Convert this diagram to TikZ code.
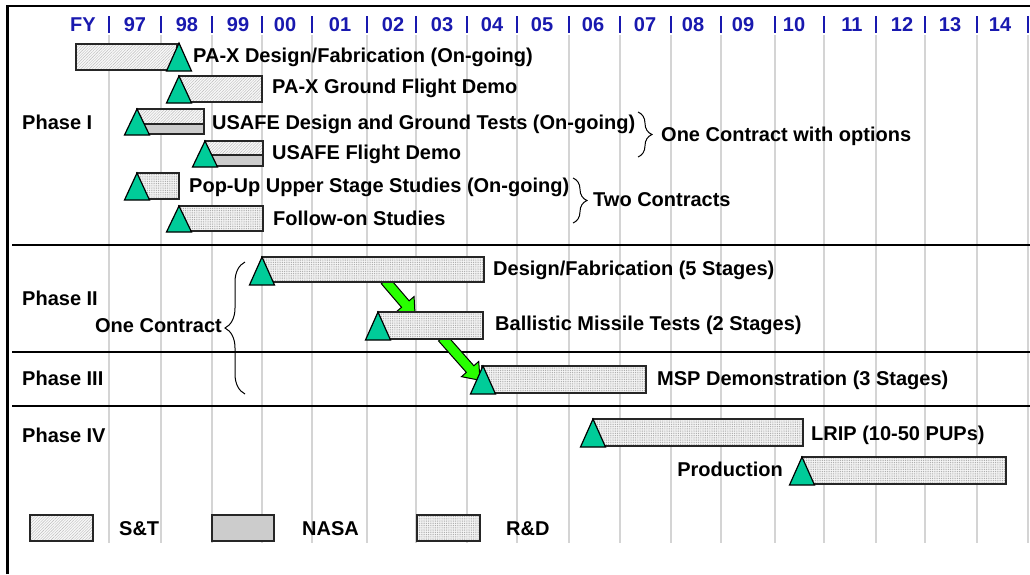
\documentclass[tikz,border=0pt]{standalone}
\usepackage{fontspec}
\setmainfont{Liberation Sans}
\usetikzlibrary{patterns.meta,shapes.arrows,decorations.pathreplacing,calc}
\definecolor{hdrblue}{RGB}{25,25,175}
\definecolor{msgreen}{RGB}{0,204,153}
\definecolor{arrgreen}{RGB}{40,255,0}
\definecolor{gridgray}{RGB}{212,212,212}
\definecolor{nasagray}{RGB}{204,204,204}
\newcommand{\gbar}[6]{\node[#6, minimum width=#4pt-#2pt, minimum height=#5pt-#3pt] (#1) at (#2,#3) {};}
\newcommand{\mstone}[3]{\draw[ms] (#1-12.5,#3) -- (#1,#2) -- (#1+12.5,#3) -- cycle;}
\begin{document}
\begin{tikzpicture}[x=1pt,y=-1pt,
  lbl/.style={font=\fontsize{20}{24}\selectfont\bfseries, inner sep=0pt, anchor=base west},
  lble/.style={lbl, anchor=base east},
  hdr/.style={font=\fontsize{20}{24}\selectfont\bfseries, text=hdrblue, inner sep=0pt, anchor=base},
  barbase/.style={draw=black!85, line width=1.3pt, inner sep=0pt, outer sep=0pt, anchor=north west},
  st/.style={barbase, preaction={fill=gray!5}, pattern={Lines[angle=45,distance=2pt,line width=0.4pt]}, pattern color=gray!55},
  nasa/.style={barbase, fill=nasagray},
  rd/.style={barbase, preaction={fill=gray!8}, pattern={Dots[distance=1.8pt,radius=0.5pt]}, pattern color=gray!75},
  ms/.style={draw=black, line width=1.2pt, fill=msgreen, line join=miter},
  gridln/.style={draw=gridgray, line width=1.3pt},
  phaseline/.style={line width=2.8pt},
  yrsep/.style={draw=hdrblue, line width=1.8pt},
  br/.style={decorate, decoration={brace, amplitude=#1}, line width=1pt},
  fat/.style={single arrow, draw=black, line width=1pt, fill=arrgreen, inner xsep=0pt, inner ysep=4.5pt, single arrow head extend=6.5pt, single arrow tip angle=75}
]
\useasboundingbox (0,0) rectangle (1030,574);
% grid
\foreach \x in {109,161,212,262,312,367,416,467,517,569,620,671,721,775,824,876,925,977,1028}{
  \draw[gridln] (\x,35) -- (\x,543);
  \draw[yrsep] (\x,16) -- (\x,33);
}
\foreach \x/\t in {83/FY,135/97,187/98,238/99,285/00,340/01,393/02,442/03,492/04,542/05,593/06,645/07,693/08,743/09,794/10,852/11,902/12,950/13,1000/14}{
  \node[hdr] (y\t) at (\x,31.5) {\t};
}
% frame and phase lines
\draw[line width=2.5pt] (7.5,574) -- (7.5,6) -- (1030,6);
\draw[phaseline] (12,245) -- (1030,245);
\draw[phaseline] (12,352) -- (1030,352);
\draw[phaseline] (12,406) -- (1030,406);
% phase labels
\node[lbl] (p1) at (22,129) {Phase I};
\node[lbl] (p2) at (22,305) {Phase II};
\node[lbl] (p3) at (22,385) {Phase III};
\node[lbl] (p4) at (22,442) {Phase IV};
% green arrows (under bars)
\coordinate (a1s) at (383,278); \coordinate (a1e) at (413,313);
\node[fat, minimum height=46pt, rotate=-49.4] (arr1) at ($(a1s)!0.5!(a1e)$) {};
\coordinate (a2s) at (440,335); \coordinate (a2e) at (478,378);
\node[fat, minimum height=57pt, rotate=-48.5] (arr2) at ($(a2s)!0.5!(a2e)$) {};
% Phase I
\gbar{pxdf}{76}{44}{177}{70}{st}
\mstone{179}{43}{71}
\node[lbl] (tpxdf) at (193,62) {PA-X Design/Fabrication (On-going)};
\gbar{pxgf}{179}{76}{262}{102}{st}
\mstone{179}{76}{103}
\node[lbl] (tpxgf) at (272,93) {PA-X Ground Flight Demo};
\gbar{usdgA}{137}{109}{204}{124}{st}
\gbar{usdgB}{137}{124}{204}{134}{nasa}
\mstone{137}{109}{135}
\node[lbl] (tusdg) at (212,129) {USAFE Design and Ground Tests (On-going)};
\gbar{usfdA}{205}{141}{263}{155}{st}
\gbar{usfdB}{205}{155}{263}{166}{nasa}
\mstone{205}{141}{167}
\node[lbl] (tusfd) at (272,159.5) {USAFE Flight Demo};
\gbar{pop}{137}{173}{179}{199}{rd}
\mstone{137}{173}{200}
\node[lbl] (tpop) at (189,192.5) {Pop-Up Upper Stage Studies (On-going)};
\gbar{fol}{179}{206}{263}{231}{rd}
\mstone{179}{206}{232}
\node[lbl] (tfol) at (273,225) {Follow-on Studies};
% braces
\draw[br=14pt] (638,112) -- (638,157);
\node[lbl] (c1) at (661,141.7) {One Contract with options};
\draw[br=14pt] (573,178) -- (573,223);
\node[lbl] (c2) at (593,206.7) {Two Contracts};
\draw[br=20pt] (245,394) -- (245,262);
\node[lble] (c3) at (222,332) {One Contract};
% Phase II / III
\gbar{df}{262}{257}{484}{282}{rd}
\mstone{262}{257}{285}
\node[lbl] (tdf) at (493,275) {Design/Fabrication (5 Stages)};
\gbar{bm}{378}{312}{483}{339}{rd}
\mstone{378}{312}{340}
\node[lbl] (tbm) at (495,330.7) {Ballistic Missile Tests (2 Stages)};
\gbar{msp}{482}{366}{646}{393}{rd}
\mstone{483}{366}{394}
\node[lbl] (tmsp) at (657,385) {MSP Demonstration (3 Stages)};
% Phase IV
\gbar{lrip}{593}{419}{803}{446}{rd}
\mstone{593}{419}{447}
\node[lbl] (tlrip) at (811,440) {LRIP (10-50 PUPs)};
\gbar{prod}{802}{457}{1006}{484}{rd}
\mstone{802}{457}{485}
\node[lble] (tprod) at (783,476) {Production};
% legend
\gbar{lst}{30}{515}{93}{541}{st}
\node[lbl] (tlst) at (119,535) {S\&T};
\gbar{lna}{212}{515}{274}{541}{nasa}
\node[lbl] (tlna) at (302,535) {NASA};
\gbar{lrd}{417}{515}{480}{541}{rd}
\node[lbl] (tlrd) at (506,535) {R\&D};
\end{tikzpicture}
\end{document}
